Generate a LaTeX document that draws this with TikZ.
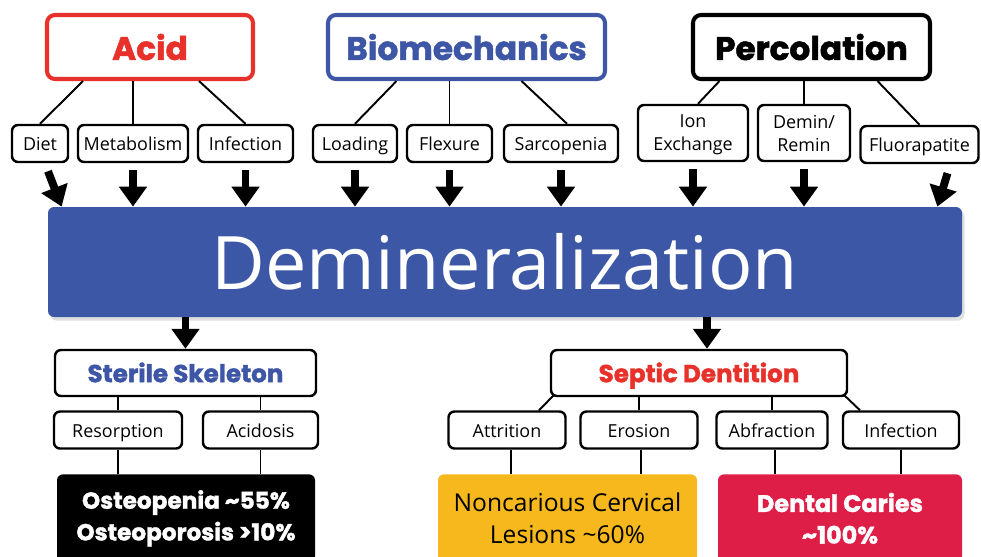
\documentclass[tikz,border=0pt]{standalone}
\usepackage{fontspec}
\setmainfont{Open Sans}
\newfontfamily\negrita{Poppins}[BoldFeatures={FakeBold=1.5}]
\usepackage{xcolor}
\usetikzlibrary{arrows.meta,calc,shadows}
\definecolor{rojoacido}{RGB}{232,49,42}
\definecolor{azulbio}{RGB}{62,86,166}
\definecolor{azulbarra}{RGB}{61,87,167}
\definecolor{amarillo}{RGB}{246,184,29}
\definecolor{carmesi}{RGB}{223,30,71}
\def\px{0.2mm}
\tikzset{
  titulo/.style={rectangle, draw=black, fill=white, line width=2.3pt,
                 rounded corners=1.6mm, inner sep=0pt, minimum height=64*\px,
                 font=\negrita\bfseries\fontsize{18.6}{20}\selectfont},
  caja/.style={rectangle, draw=black, fill=white, line width=1.4pt,
               rounded corners=1.2mm, inner sep=0pt, minimum height=37*\px,
               align=center, font=\fontsize{10.2}{13}\selectfont},
  etiqueta/.style={caja, text height=9.5pt, text depth=1.5pt},
  grupo/.style={etiqueta, minimum height=46*\px, text height=10.5pt, text depth=0pt,
                font=\negrita\bfseries\fontsize{14}{16}\selectfont},
  resultado/.style={rectangle, rounded corners=1.2mm, inner sep=0pt,
                    minimum height=88*\px, anchor=north, align=center},
  enlace/.style={line width=1.1pt},
  flecha/.style={-{Triangle[width=5.4mm,length=4mm]}, line width=4.5pt}
}

\begin{document}
\begin{tikzpicture}[x=0.2mm, y=-0.2mm]
  \useasboundingbox (0,0) rectangle (981,556);
  \clip (0,0) rectangle (981,556);

  % --- Causas ---
  \node[titulo, draw=rojoacido, text=rojoacido, minimum width=206*\px] (A) at (150,47) {Acid};
  \node[titulo, draw=azulbio, text=azulbio, minimum width=277*\px] (B) at (466.5,47) {Biomechanics};
  \node[titulo, minimum width=237*\px] (P) at (811.5,47) {Percolation};

  \node[etiqueta, minimum width=56*\px]  (A1) at (40,143.5)    {Diet};
  \node[etiqueta, minimum width=110*\px] (A2) at (133,143.5)   {Metabolism};
  \node[etiqueta, minimum width=95*\px]  (A3) at (245.5,143.5) {Infection};
  \node[etiqueta, minimum width=84*\px]  (B1) at (355,143.5)   {Loading};
  \node[etiqueta, minimum width=85*\px]  (B2) at (449.5,143.5) {Flexure};
  \node[etiqueta, minimum width=114*\px] (B3) at (561,143.5)   {Sarcopenia};
  \node[caja, minimum width=110*\px, minimum height=56*\px, text depth=-2.5pt] (P1) at (693,133) {Ion\\Exchange};
  \node[caja, minimum width=92*\px, minimum height=56*\px, text depth=-2.5pt]  (P2) at (804,133) {Demin/\\Remin};
  \node[etiqueta, minimum width=118*\px] (P3) at (919.5,144.5) {Fluorapatite};

  \draw[enlace] ($(A.south)+(-67,0)$) -- (A1.north);
  \draw[enlace] (A2.north |- A.south) -- (A2.north);
  \draw[enlace] ($(A.south)+(49,0)$) -- (A3.north);
  \draw[enlace] ($(B.south)+(-70,0)$) -- (B1.north);
  \draw[enlace] (B2.north |- B.south) -- (B2.north);
  \draw[enlace] ($(B.south)+(55,0)$) -- ($(B3.north)+(6,0)$);
  \draw[enlace] ($(P.south)+(-92,0)$) -- ($(P1.north)+(5,0)$);
  \draw[enlace] (P2.north |- P.south) -- (P2.north);
  \draw[enlace] ($(P.south)+(66,0)$) -- (P3.north);

  % --- Barra central ---
  \node[rectangle, fill=azulbarra, rounded corners=1.2mm, inner sep=0pt,
        minimum width=914*\px, minimum height=110*\px, text=white,
        font=\fontsize{42}{50}\selectfont,
        drop shadow={shadow xshift=0.5mm, shadow yshift=-0.7mm, opacity=0.25}]
        (D) at (505,262) {Demineralization};

  \draw[flecha] ($(A1.south)+(8,8)$) -- ($(D.north west)+(14,0)$);
  \foreach \n in {A2,A3,B1,B2,B3,P1,P2}
    \draw[flecha] ($(\n.south)+(0,7)$) -- (\n.south |- D.north);
  \draw[flecha] ($(P3.south)+(28,9)$) -- ($(D.north east)+(-25,0)$);

  % --- Consecuencias ---
  \node[grupo, text=azulbio, minimum width=261*\px]   (S) at (185.5,373) {Sterile Skeleton};
  \node[grupo, text=rojoacido, minimum width=296*\px] (T) at (699,373)   {Septic Dentition};
  \draw[flecha] (D.south -| S.north) -- (S.north);
  \draw[flecha] ($(D.south -| T.north)+(8,0)$) -- ($(T.north)+(8,0)$);

  \node[etiqueta, minimum width=128*\px] (S1) at (118,430)   {Resorption};
  \node[etiqueta, minimum width=115*\px] (S2) at (260.5,430) {Acidosis};
  \node[etiqueta, minimum width=117*\px] (T1) at (507,430)   {Attrition};
  \node[etiqueta, minimum width=117*\px] (T2) at (639,430)   {Erosion};
  \node[etiqueta, minimum width=111*\px] (T3) at (772,430)   {Abfraction};
  \node[etiqueta, minimum width=116*\px] (T4) at (901,430)   {Infection};

  \draw[enlace] (S1.north |- S.south) -- (S1.north);
  \draw[enlace] (S2.north |- S.south) -- (S2.north);
  \draw[enlace] ($(T.south west)+(4,-2)$) -- ($(T1.north)+(32,0)$);
  \draw[enlace] (T2.north |- T.south) -- (T2.north);
  \draw[enlace] (T3.north |- T.south) -- (T3.north);
  \draw[enlace] ($(T.south east)+(-4,-2)$) -- ($(T4.north)+(-41,0)$);

  \node[resultado, fill=black, text=white, minimum width=258*\px,
        font=\negrita\bfseries\fontsize{13.2}{18}\selectfont]
        (R1) at (186,474) {Osteopenia \textasciitilde55\%\\Osteoporosis >10\%};
  \node[resultado, fill=amarillo, text=black, minimum width=259*\px,
        font=\fontsize{14}{18}\selectfont]
        (R2) at (567.5,474) {Noncarious Cervical\\Lesions \textasciitilde60\%};
  \node[resultado, fill=carmesi, text=white, minimum width=244*\px,
        font=\negrita\bfseries\fontsize{13.6}{18}\selectfont]
        (R3) at (840,474) {Dental Caries\\\textasciitilde100\%};

  \draw[enlace] (S1.south) -- (S1.south |- R1.north);
  \draw[enlace] (S2.south) -- (S2.south |- R1.north);
  \draw[enlace] ($(T1.south)+(4,0)$) -- ($(T1.south |- R2.north)+(4,0)$);
  \draw[enlace] ($(T2.south)+(2,0)$) -- ($(T2.south |- R2.north)+(2,0)$);
  \draw[enlace] ($(T3.south)+(3,0)$) -- ($(T3.south |- R3.north)+(3,0)$);
  \draw[enlace] (T4.south) -- (T4.south |- R3.north);
\end{tikzpicture}
\end{document}
